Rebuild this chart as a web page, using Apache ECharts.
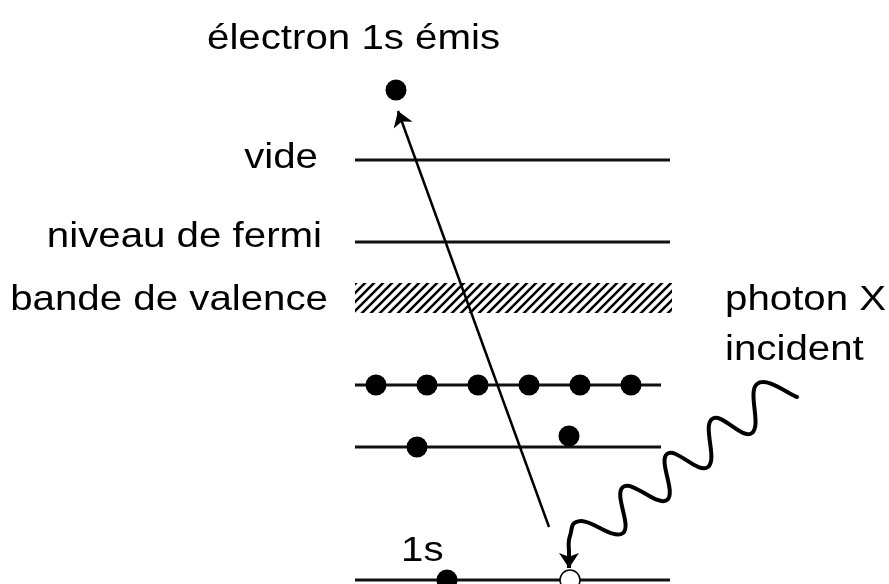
<!DOCTYPE html>
<html>
<head>
<meta charset="utf-8">
<script src="https://cdn.jsdelivr.net/npm/echarts@6/dist/echarts.min.js"></script>
<style>
  html, body { margin: 0; padding: 0; background: #fff; }
  #chart { width: 889px; height: 584px; }
</style>
</head>
<body>
<div id="chart"></div>
<script>
// diagram units = picture pixels, y grows downward
const levelY = [160, 242, 385, 447, 580]
const levelStart = [355, 355, 355, 355, 355]
const levelEnd = [670, 670, 661, 661, 670]

const bandY = [283, 313]
const bandX = [355, 672]

const electrons = [
  [396, 90],
  [376, 385], [427, 385], [478, 385], [529, 385], [580, 385], [631, 385],
  [417, 447], [569, 436],
  [447, 580]
]
const holes = [[570, 580]]

const emissionPath = [[549, 527], [398, 111]]
// crests / troughs of the incoming photon
const photonPath = [
  [797, 397], [757, 384], [752, 433], [712, 419], [708, 467], [667, 454],
  [667, 500], [623, 487], [623, 533], [581, 521], [570, 536], [569, 553]
]
const photonTip = [[569, 551], [569, 568]]

const labelTexts = ['électron 1s émis', 'vide', 'niveau de fermi', 'bande de valence', 'photon X', 'incident', '1s']
const labelAnchors = [[207, 39], [318, 158], [322, 237], [328, 300], [725, 300], [725, 350], [401, 551]]
const labelAlign = ['left', 'right', 'right', 'right', 'left', 'left', 'left']

const makeHatch = () => {
  const s = 9
  const c = document.createElement('canvas')
  c.width = s
  c.height = s
  const ctx = c.getContext('2d')
  ctx.strokeStyle = '#000'
  ctx.lineWidth = 2.6
  ctx.beginPath()
  ctx.moveTo(-s, s); ctx.lineTo(s, -s)
  ctx.moveTo(0, 2 * s); ctx.lineTo(2 * s, 0)
  ctx.moveTo(0, s); ctx.lineTo(s, 0)
  ctx.stroke()
  return c
}

// catmull-rom through the points, as svg path data
const curvePath = (pts, k) => {
  let d = 'M' + pts[0][0] + ' ' + pts[0][1]
  for (let i = 0; i < pts.length - 1; i++) {
    const p0 = pts[i - 1] || pts[i]
    const p1 = pts[i]
    const p2 = pts[i + 1]
    const p3 = pts[i + 2] || p2
    const c1 = [p1[0] + (p2[0] - p0[0]) * k / 6, p1[1] + (p2[1] - p0[1]) * k / 6]
    const c2 = [p2[0] - (p3[0] - p1[0]) * k / 6, p2[1] - (p3[1] - p1[1]) * k / 6]
    d += ' C' + c1.join(' ') + ' ' + c2.join(' ') + ' ' + p2.join(' ')
  }
  return d
}

const chart = echarts.init(document.getElementById('chart'))
const hatch = makeHatch()

chart.setOption({
  animation: false,
  grid: { left: 0, right: 0, top: 0, bottom: 0 },
  xAxis: { type: 'value', min: 0, max: 889, show: false },
  yAxis: { type: 'value', min: 0, max: 584, inverse: true, show: false },
  series: [
    {
      type: 'custom',
      data: levelY.map((y, i) => [levelStart[i], levelEnd[i], y]),
      renderItem: (params, api) => {
        const a = api.coord([api.value(0), api.value(2)])
        const b = api.coord([api.value(1), api.value(2)])
        return {
          type: 'line',
          shape: { x1: a[0], y1: a[1], x2: b[0], y2: b[1] },
          style: { stroke: '#111', lineWidth: 3 }
        }
      },
      z: 1
    },
    {
      type: 'custom',
      data: [[bandX[0], bandY[0], bandX[1], bandY[1]]],
      renderItem: (params, api) => {
        const a = api.coord([api.value(0), api.value(1)])
        const b = api.coord([api.value(2), api.value(3)])
        return {
          type: 'rect',
          shape: { x: a[0], y: a[1], width: b[0] - a[0], height: b[1] - a[1] },
          style: { fill: { image: hatch, repeat: 'repeat' } }
        }
      },
      z: 1
    },
    {
      type: 'lines',
      coordinateSystem: 'cartesian2d',
      symbol: ['none', 'arrow'],
      symbolSize: 15,
      lineStyle: { color: '#000', width: 2.5, opacity: 1 },
      data: [{ coords: emissionPath }, { coords: photonTip, lineStyle: { width: 4 } }],
      z: 3
    },
    {
      type: 'custom',
      data: photonPath,
      renderItem: (params, api) => {
        if (params.dataIndex !== 0) return
        const pts = photonPath.map((p) => api.coord(p))
        return {
          type: 'path',
          shape: { pathData: curvePath(pts, 1.3) },
          style: { stroke: '#000', fill: null, lineWidth: 4, lineJoin: 'round', lineCap: 'round' }
        }
      },
      z: 3
    },
    {
      type: 'scatter',
      data: electrons,
      symbolSize: 21,
      itemStyle: { color: '#000', opacity: 1 },
      z: 4
    },
    {
      type: 'scatter',
      data: holes,
      symbolSize: 20,
      itemStyle: { color: '#fff', borderColor: '#000', borderWidth: 1.5, opacity: 1 },
      z: 5
    },
    {
      type: 'custom',
      data: labelTexts.map((t, i) => [labelAnchors[i][0], labelAnchors[i][1], i]),
      renderItem: (params, api) => {
        const p = api.coord([api.value(0), api.value(1)])
        const i = api.value(2)
        return {
          type: 'text',
          x: p[0],
          y: p[1],
          scaleX: 1.15,
          style: {
            text: labelTexts[i],
            font: '35px "Liberation Sans", Arial, sans-serif',
            fill: '#000',
            align: labelAlign[i],
            verticalAlign: 'middle'
          }
        }
      },
      z: 6
    }
  ]
})
</script>
</body>
</html>
